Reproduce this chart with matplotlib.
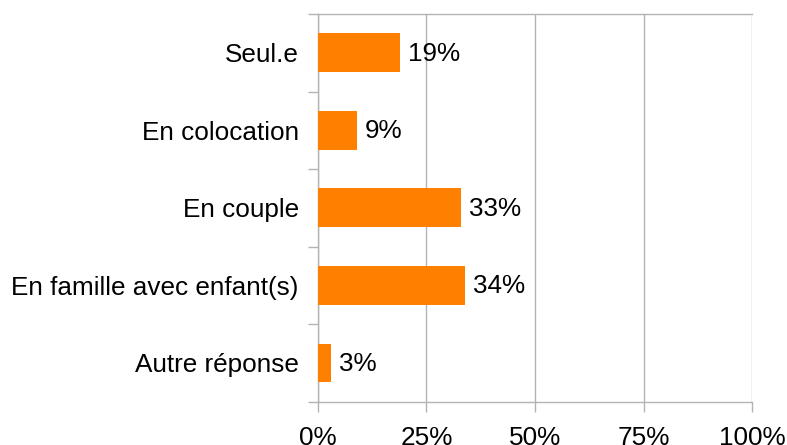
import matplotlib
matplotlib.use("Agg")
import matplotlib.pyplot as plt
import numpy as np

categories = ["Seul.e", "En colocation", "En couple", "En famille avec enfant(s)", "Autre réponse"]
values = [19, 9, 33, 34, 3]
xticks = [0, 25, 50, 75, 100]
xticklabels = ["0%", "25%", "50%", "75%", "100%"]

plt.rcParams['font.family'] = ['Liberation Sans', 'DejaVu Sans']
FS = 18.85
GRID = "#b3b3b3"
PX = 72 / 100  # points per pixel

fig = plt.figure(figsize=(7.87, 4.45), dpi=100)
ax = fig.add_axes([317.7 / 787, 1 - 401.7 / 445, (752.3 - 317.7) / 787, (401.7 - 14) / 445])

n = len(categories)
y = np.arange(n)
ax.barh(y, values, height=0.5, color="#ff8000", zorder=3)
for yi, v in zip(y, values):
    ax.annotate(f"{v}%", (v, yi), xytext=(8, -1), textcoords="offset pixels",
                va="center", ha="left", fontsize=FS, color="black", zorder=4)

ax.set_xlim(0, 100)
ax.set_ylim(n - 0.5, -0.5)
ax.set_xticks(xticks)
ax.set_xticklabels(xticklabels, fontsize=FS)
ax.set_yticks(y)
ax.set_yticklabels(categories, fontsize=FS)
ax.set_yticks(np.arange(n + 1) - 0.5, minor=True)
ax.tick_params(axis="y", which="major", length=0, pad=19 * PX)
ax.tick_params(axis="y", which="minor", length=10 * PX, width=1, color=GRID, direction="out")
ax.tick_params(axis="x", which="major", length=10 * PX, width=1, color=GRID, direction="out", pad=10.5)

ax.grid(axis="x", color=GRID, linewidth=1, zorder=0)
for s in ["top", "bottom", "left"]:
    ax.spines[s].set_color(GRID)
    ax.spines[s].set_linewidth(1)
ax.spines["right"].set_visible(False)

fig.savefig("out.png", dpi=100)
